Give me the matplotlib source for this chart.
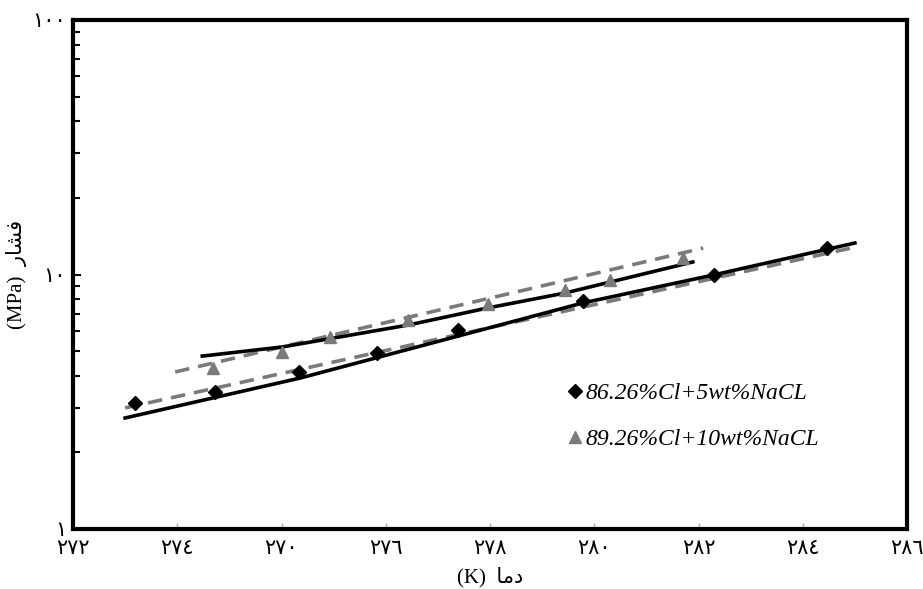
import matplotlib
matplotlib.use("Agg")
import matplotlib.pyplot as plt
from matplotlib.ticker import FixedLocator, LogLocator, NullFormatter

# Hydrate equilibrium data
t_diamond = [273.19, 274.72, 276.34, 277.83, 279.39, 281.79, 284.29, 286.47]
p_diamond = [3.13, 3.45, 4.14, 4.92, 6.05, 7.87, 9.95, 12.7]

t_triangle = [274.69, 276.01, 276.93, 278.43, 279.96, 281.44, 282.30, 283.70]
p_triangle = [4.29, 4.96, 5.68, 6.62, 7.66, 8.69, 9.51, 11.6]

# model curves
t_diamond_solid = [273.0, 276.36, 279.39, 281.78, 284.28, 287.0]
p_diamond_solid = [2.73, 3.92, 5.73, 7.73, 9.95, 13.3]
t_diamond_dash = [273.0, 287.0]
p_diamond_dash = [2.99, 12.8]

t_triangle_solid = [274.48, 276.01, 278.43, 279.96, 281.44, 283.89]
p_triangle_solid = [4.78, 5.19, 6.33, 7.39, 8.46, 11.2]
t_triangle_dash = [273.96, 284.09]
p_triangle_dash = [4.14, 12.7]

x_ticks = [272, 274, 276, 278, 280, 282, 284, 286, 288]
x_tick_labels = ["\u0662\u0667\u0662", "\u0662\u0667\u0664", "\u0662\u0667\u0660",
                 "\u0662\u0667\u0666", "\u0662\u0667\u0668", "\u0662\u0668\u0660",
                 "\u0662\u0668\u0662", "\u0662\u0668\u0664", "\u0662\u0668\u0666"]
y_ticks = [1, 10, 100]
y_tick_labels = ["\u0661", "\u0661\u0660", "\u0661\u0660\u0660"]

label_1 = "86.26%Cl+5wt%NaCL"
label_2 = "89.26%Cl+10wt%NaCL"
# Persian labels, shaped glyphs in visual order
x_label = "(K)  \ufe8e\ufee3\u062f"
y_label = "(MPa)  \u0631\ufe8e\ufeb8\ufed3"

fonts = ["Liberation Serif", "DejaVu Sans"]
plt.rcParams["font.family"] = fonts

fig = plt.figure(figsize=(9.23, 5.89), dpi=100)
ax = fig.add_axes([0.0791, 0.1019, 0.9036, 0.8641])

gray = "#7a7a7a"
ax.plot(t_diamond_dash, p_diamond_dash, color=gray, lw=2.6, ls=(0, (4, 2.5)))
ax.plot(t_diamond_solid, p_diamond_solid, color="black", lw=2.6)
ax.plot(t_triangle_dash, p_triangle_dash, color=gray, lw=2.6, ls=(0, (4, 2.5)))
ax.plot(t_triangle_solid, p_triangle_solid, color="black", lw=2.6)

h1, = ax.plot(t_diamond, p_diamond, ls="none", marker="D", ms=7,
              color="black", label=label_1)
h2, = ax.plot(t_triangle, p_triangle, ls="none", marker="^", ms=9,
              color=gray, label=label_2)

ax.set_yscale("log")
ax.set_xlim(272, 288)
ax.set_ylim(1, 100)

ax.xaxis.set_major_locator(FixedLocator(x_ticks))
ax.set_xticklabels(x_tick_labels, fontsize=15)
ax.yaxis.set_major_locator(FixedLocator(y_ticks))
ax.yaxis.set_minor_locator(LogLocator(base=10, subs=range(2, 10)))
ax.yaxis.set_minor_formatter(NullFormatter())
ax.set_yticklabels(y_tick_labels, fontsize=15)

ax.tick_params(axis="x", direction="in", length=4, width=1, color="#aaaaaa", pad=8)
ax.tick_params(axis="y", which="major", direction="in", length=6, width=1.5, pad=5)
ax.tick_params(axis="y", which="minor", direction="in", length=5, width=1.5)

for s in ax.spines.values():
    s.set_linewidth(3)

ax.set_xlabel(x_label, fontsize=15, labelpad=6)
ax.set_ylabel(y_label, fontsize=15, labelpad=4)

leg = ax.legend(handles=[h1, h2], loc="upper left", bbox_to_anchor=(0.568, 0.33),
                frameon=False, handlelength=0.6, handletextpad=0.15,
                labelspacing=1.05, prop={"family": fonts, "style": "italic", "size": 17})

fig.savefig("out.png", dpi=100)
